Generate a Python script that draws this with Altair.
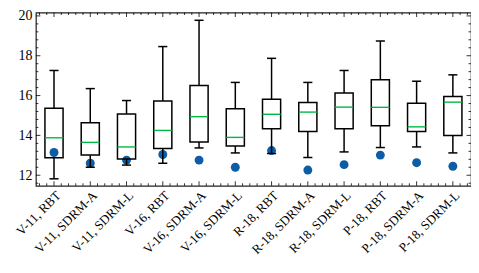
import json
import numpy as np
import pandas as pd
import altair as alt

cats = ["V-11, RBT", "V-11, SDRM-A", "V-11, SDRM-L",
        "V-16, RBT", "V-16, SDRM-A", "V-16, SDRM-L",
        "R-18, RBT", "R-18, SDRM-A", "R-18, SDRM-L",
        "P-18, RBT", "P-18, SDRM-A", "P-18, SDRM-L"]
pos = list(range(1, 13))
lo = [11.82, 12.40, 12.51, 12.60, 13.37, 13.12, 13.09, 12.89, 13.17, 13.39, 13.42, 13.12]
q1 = [12.88, 13.01, 12.81, 13.34, 13.67, 13.47, 14.33, 14.20, 14.33, 14.49, 14.20, 14.00]
med = [13.88, 13.65, 13.42, 14.25, 14.94, 13.90, 15.06, 15.17, 15.42, 15.41, 14.43, 15.67]
q3 = [15.36, 14.63, 15.07, 15.73, 16.50, 15.34, 15.82, 15.65, 16.13, 16.79, 15.62, 15.95]
hi = [17.26, 16.35, 15.75, 18.46, 19.78, 16.66, 17.87, 16.66, 17.26, 18.74, 16.72, 17.04]
dot = [13.14, 12.60, 12.76, 13.04, 12.76, 12.40, 13.24, 12.26, 12.53, 13.01, 12.63, 12.45]

y_major = [12, 14, 16, 18, 20]
y_minor = [v for v in np.round(np.arange(11.6, 20.01, 0.4), 2) if abs(v - round(v)) > 1e-6 or int(round(v)) % 2]
x_minor = [v for v in np.round(np.arange(0.6, 12.41, 0.2), 2) if abs(v - round(v)) > 1e-6]

W, H = 437, 174
FONT = "Liberation Serif"

df = pd.DataFrame(dict(cat=cats, pos=pos, lo=lo, q1=q1, med=med, q3=q3, hi=hi, dot=dot))

xs = alt.Scale(domain=[0.5, 12.5], nice=False, zero=False)
ys = alt.Scale(domain=[11.47, 20.17], nice=False, zero=False)

xaxis = alt.Axis(values=pos, labelExpr=json.dumps(cats) + "[datum.value - 1]",
                 labelAngle=315, labelAlign="right", labelBaseline="top",
                 labelOverlap=False, labelBound=False, labelFlush=False,
                 ticks=False, domain=False, grid=False, title=None,
                 labelFontSize=13, labelPadding=3, labelFont=FONT, labelColor="black")
yaxis = alt.Axis(values=y_major, ticks=False, domain=False, grid=False, title=None,
                 labelOverlap=False, labelFlush=False,
                 labelFontSize=14, labelPadding=4, labelFont=FONT, labelColor="black")

def X(f):
    return alt.X(f, scale=xs, axis=xaxis, title=None)

def Y(f):
    return alt.Y(f, scale=ys, axis=yaxis, title=None)

base = alt.Chart(df)
LW = 1.5

dots = base.mark_circle(size=80, color="#0C5DA5", opacity=1).encode(x=X("pos:Q"), y=Y("dot:Q"))

wl = base.mark_rule(color="black", strokeWidth=LW).encode(x=X("pos:Q"), y=Y("lo:Q"), y2="q1:Q")
wu = base.mark_rule(color="black", strokeWidth=LW).encode(x=X("pos:Q"), y=Y("q3:Q"), y2="hi:Q")

capbase = base.transform_calculate(cl="datum.pos - 0.125", cr="datum.pos + 0.125")
capl = capbase.mark_rule(color="black", strokeWidth=LW).encode(x=X("cl:Q"), x2="cr:Q", y=Y("lo:Q"))
caph = capbase.mark_rule(color="black", strokeWidth=LW).encode(x=X("cl:Q"), x2="cr:Q", y=Y("hi:Q"))

boxbase = base.transform_calculate(bl="datum.pos - 0.25", br="datum.pos + 0.25")
box = boxbase.mark_rect(fill="white", fillOpacity=0, stroke="black", strokeWidth=LW).encode(
    x=X("bl:Q"), x2="br:Q", y=Y("q1:Q"), y2="q3:Q")
medl = boxbase.mark_rule(color="#00B945", strokeWidth=1.4).encode(
    x=X("bl:Q"), x2="br:Q", y=Y("med:Q"))

def yticks(vals, L):
    d = alt.Chart(pd.DataFrame({"v": vals}))
    left = d.mark_rule(color="black", strokeWidth=0.8).encode(
        y=Y("v:Q"), x=alt.value(0), x2=alt.value(L))
    right = d.mark_rule(color="black", strokeWidth=0.8).encode(
        y=Y("v:Q"), x=alt.value(W - L), x2=alt.value(W))
    return [left, right]

def xticks(vals, L):
    d = alt.Chart(pd.DataFrame({"v": vals}))
    bot = d.mark_rule(color="black", strokeWidth=0.8).encode(
        x=X("v:Q"), y=alt.value(H), y2=alt.value(H - L))
    top = d.mark_rule(color="black", strokeWidth=0.8).encode(
        x=X("v:Q"), y=alt.value(0), y2=alt.value(L))
    return [bot, top]

layers = [dots, wl, wu, capl, caph, box, medl] + yticks(y_major, 4.5) + yticks(y_minor, 2.5) \
    + xticks(pos, 4.5) + xticks(x_minor, 2.5)

chart = alt.layer(*layers).properties(
    width=W, height=H,
    autosize=alt.AutoSizeParams(type="none"),
    padding={"left": 28, "top": 4, "right": 0, "bottom": 74},
).configure_view(stroke="#222", strokeWidth=1.2)

chart.save("out.html", embed_options={"renderer": "svg", "actions": False})
